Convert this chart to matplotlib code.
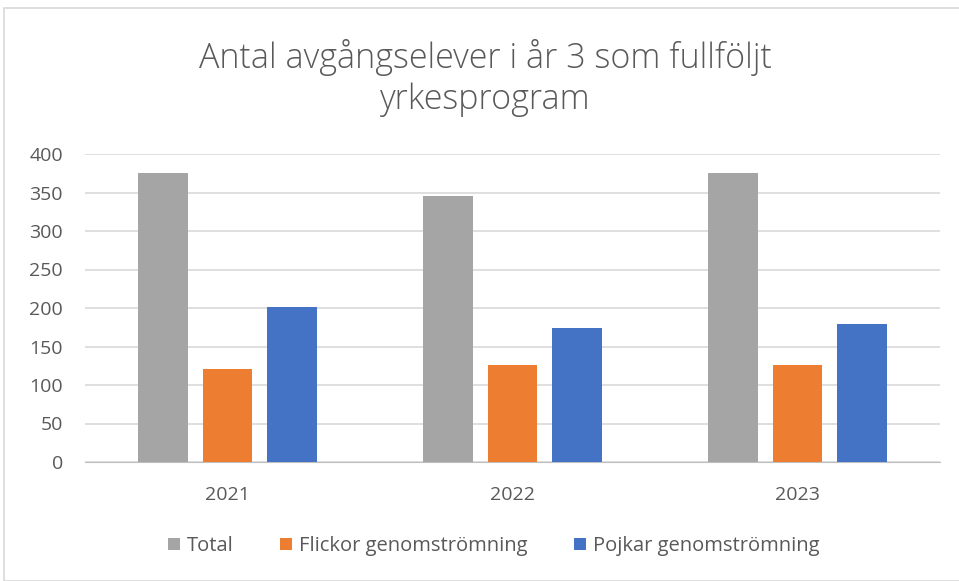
import matplotlib.pyplot as plt
import numpy as np
from matplotlib.patches import Rectangle

years = ['2021', '2022', '2023']
total = [375, 345, 375]
flickor = [121, 126, 126]
pojkar = [201, 174, 179]
series_names = ['Total', 'Flickor genomströmning', 'Pojkar genomströmning']
colors = ['#a5a5a5', '#ed7d31', '#4472c4']

plt.rcParams['font.family'] = ['Open Sans', 'DejaVu Sans']
txt = '#595959'

fig = plt.figure(figsize=(9.59, 5.81), dpi=100)
fig.patches.append(Rectangle((4 / 959, 0), 1, 1 - 8 / 581, transform=fig.transFigure,
                             fill=False, edgecolor='#d9d9d9', linewidth=1.2))
ax = fig.add_axes([85 / 959, 1 - 462 / 581, 855 / 959, 308 / 581])

x = np.arange(len(years))
w = 0.175
off = 0.225
for i, vals in enumerate([total, flickor, pojkar]):
    ax.bar(x + (i - 1) * off, vals, w, color=colors[i], label=series_names[i], zorder=3)

ax.set_xlim(-0.5, 2.5)
ax.set_ylim(0, 400)
ax.set_yticks(range(0, 401, 50))
ax.set_xticks(x)
ax.set_xticklabels(years)
ax.grid(axis='y', color='#d9d9d9', linewidth=1.2, zorder=0)
for s in ['top', 'right', 'left']:
    ax.spines[s].set_visible(False)
ax.spines['bottom'].set_color('#bfbfbf')
ax.tick_params(length=0, labelsize=14, colors=txt)
ax.tick_params(axis='x', pad=17)
ax.tick_params(axis='y', pad=16)

fig.text(0.5 + 6 / 959, 1 - 57 / 581, 'Antal avgångselever i år 3 som fullföljt', ha='center', va='center',
         fontsize=24.5, color=txt, fontweight='light')
fig.text(0.5 + 6 / 959, 1 - 100 / 581, 'yrkesprogram', ha='center', va='center',
         fontsize=24.5, color=txt, fontweight='light')

fig.legend(loc='center', bbox_to_anchor=(0.5 + 14 / 959, 1 - 546 / 581), ncol=3, frameon=False,
           fontsize=14.5, labelcolor=txt, handlelength=0.6, handleheight=0.6,
           handletextpad=0.35, columnspacing=2.3)

fig.savefig('out.png', dpi=100)
